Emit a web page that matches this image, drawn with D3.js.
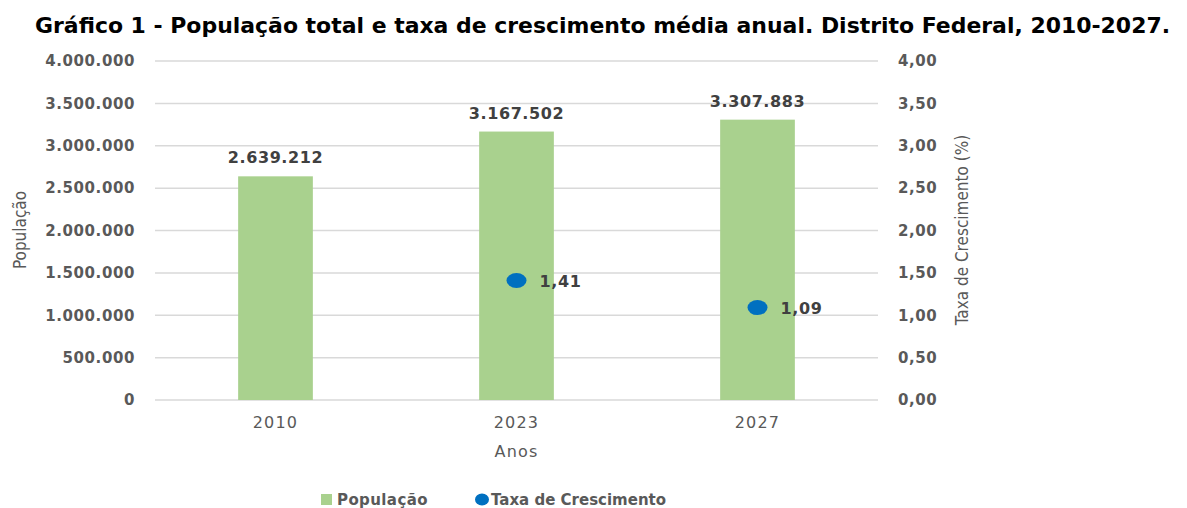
<!DOCTYPE html>
<html>
<head>
<meta charset="utf-8">
<script src="https://cdn.jsdelivr.net/npm/d3@7"></script>
<style>
  body { margin: 0; background: #fff; }
  svg { display: block; }
</style>
</head>
<body>
<script>
// chart data
const anos = ["2010", "2023", "2027"];
const populacao = [2639212, 3167502, 3307883];
const taxa = [null, 1.41, 1.09];
const popTicks = [0, 500000, 1000000, 1500000, 2000000, 2500000, 3000000, 3500000, 4000000];
const taxaTicks = [0, 0.5, 1, 1.5, 2, 2.5, 3, 3.5, 4];

const W = 1187, H = 508;
const m = {left: 155, right: 309, top: 61, bottom: 108};

const svg = d3.select("body").append("svg")
    .attr("width", W)
    .attr("height", H);

const fmtPop = v => d3.format(",d")(v).replace(/,/g, ".");
const fmtTaxa = v => d3.format(".2f")(v).replace(".", ",");

const x = d3.scaleBand()
    .domain(anos)
    .range([m.left, W - m.right])
    .paddingInner(0.69)
    .paddingOuter(0.345);

const y = d3.scaleLinear().domain([0, 4000000]).range([H - m.bottom, m.top]);
const y2 = d3.scaleLinear().domain([0, 4]).range([H - m.bottom, m.top]);

const narrow = "'DejaVu Sans Condensed', 'Liberation Sans', sans-serif";

// title
svg.append("text")
    .attr("x", 35).attr("y", 33)
    .attr("textLength", 1135)
    .attr("lengthAdjust", "spacingAndGlyphs")
    .style("font", "bold 21px 'DejaVu Sans'")
    .attr("fill", "#000")
    .text("Gráfico 1 - População total e taxa de crescimento média anual. Distrito Federal, 2010-2027.");

// gridlines
svg.append("g")
  .selectAll("line")
  .data(popTicks)
  .join("line")
    .attr("x1", m.left).attr("x2", W - m.right)
    .attr("y1", d => y(d)).attr("y2", d => y(d))
    .attr("stroke", "#d9d9d9")
    .attr("stroke-width", 1.5);

// left axis
const gl = svg.append("g")
    .attr("transform", `translate(${m.left - 20},0)`)
    .call(d3.axisLeft(y).tickValues(popTicks).tickFormat(fmtPop).tickSize(0).tickPadding(0));
gl.select(".domain").remove();
gl.selectAll("text")
    .attr("fill", "#595959")
    .style("letter-spacing", "0.6px")
    .style("font", "bold 15px 'DejaVu Sans'");

// right axis
const gr = svg.append("g")
    .attr("transform", `translate(${W - m.right + 20},0)`)
    .call(d3.axisRight(y2).tickValues(taxaTicks).tickFormat(fmtTaxa).tickSize(0).tickPadding(0));
gr.select(".domain").remove();
gr.selectAll("text")
    .attr("fill", "#595959")
    .style("letter-spacing", "0.6px")
    .style("font", "bold 15px 'DejaVu Sans'");

// x axis
const gx = svg.append("g")
    .attr("transform", `translate(0,${H - m.bottom})`)
    .call(d3.axisBottom(x).tickSize(0).tickPadding(17));
gx.select(".domain").remove();
gx.selectAll("text")
    .attr("fill", "#595959")
    .style("letter-spacing", "1.2px")
    .style("font", "16px 'DejaVu Sans'");

// axis titles
svg.append("text")
    .attr("transform", "translate(26,230) rotate(-90)")
    .attr("text-anchor", "middle")
    .attr("fill", "#595959")
    .style("font", `17px ${narrow}`)
    .text("População");

svg.append("text")
    .attr("transform", "translate(968,230) rotate(-90)")
    .attr("text-anchor", "middle")
    .attr("fill", "#595959")
    .style("font", `17px ${narrow}`)
    .text("Taxa de Crescimento (%)");

svg.append("text")
    .attr("x", x("2023") + x.bandwidth() / 2).attr("y", 457)
    .attr("text-anchor", "middle")
    .attr("fill", "#595959")
    .style("letter-spacing", "1.2px")
    .style("font", "16px 'DejaVu Sans'")
    .text("Anos");

// bars
svg.append("g")
  .selectAll("rect")
  .data(anos)
  .join("rect")
    .attr("x", d => x(d))
    .attr("width", x.bandwidth())
    .attr("y", (d, i) => y(populacao[i]))
    .attr("height", (d, i) => y(0) - y(populacao[i]))
    .attr("fill", "#A9D18E");

svg.append("g")
  .selectAll("text")
  .data(anos)
  .join("text")
    .attr("x", d => x(d) + x.bandwidth() / 2)
    .attr("y", (d, i) => y(populacao[i]) - 13)
    .attr("text-anchor", "middle")
    .attr("fill", "#404040")
    .style("letter-spacing", "0.6px")
    .style("font", "bold 16px 'DejaVu Sans'")
    .text((d, i) => fmtPop(populacao[i]));

// growth-rate points
const pts = anos.map((a, i) => ({a, v: taxa[i]})).filter(d => d.v != null);

svg.append("g")
  .selectAll("ellipse")
  .data(pts)
  .join("ellipse")
    .attr("cx", d => x(d.a) + x.bandwidth() / 2)
    .attr("cy", d => y2(d.v))
    .attr("rx", 10)
    .attr("ry", 7.5)
    .attr("fill", "#0070C0");

svg.append("g")
  .selectAll("text")
  .data(pts)
  .join("text")
    .attr("x", d => x(d.a) + x.bandwidth() / 2 + 23)
    .attr("y", d => y2(d.v) + 6)
    .attr("fill", "#404040")
    .style("letter-spacing", "0.6px")
    .style("font", "bold 16px 'DejaVu Sans'")
    .text(d => fmtTaxa(d.v));

// legend
const lg = svg.append("g");
lg.append("rect")
    .attr("x", 321).attr("y", 494).attr("width", 11).attr("height", 11)
    .attr("fill", "#A9D18E");
lg.append("text")
    .attr("x", 337).attr("y", 505)
    .attr("fill", "#595959")
    .style("letter-spacing", "0.4px")
    .style("font", "bold 15px 'DejaVu Sans'")
    .text("População");
lg.append("ellipse")
    .attr("cx", 482).attr("cy", 499.5).attr("rx", 7).attr("ry", 6)
    .attr("fill", "#0070C0");
lg.append("text")
    .attr("x", 491).attr("y", 505)
    .attr("fill", "#595959")
    .style("font", "bold 15px 'DejaVu Sans'")
    .text("Taxa de Crescimento");
</script>
</body>
</html>
